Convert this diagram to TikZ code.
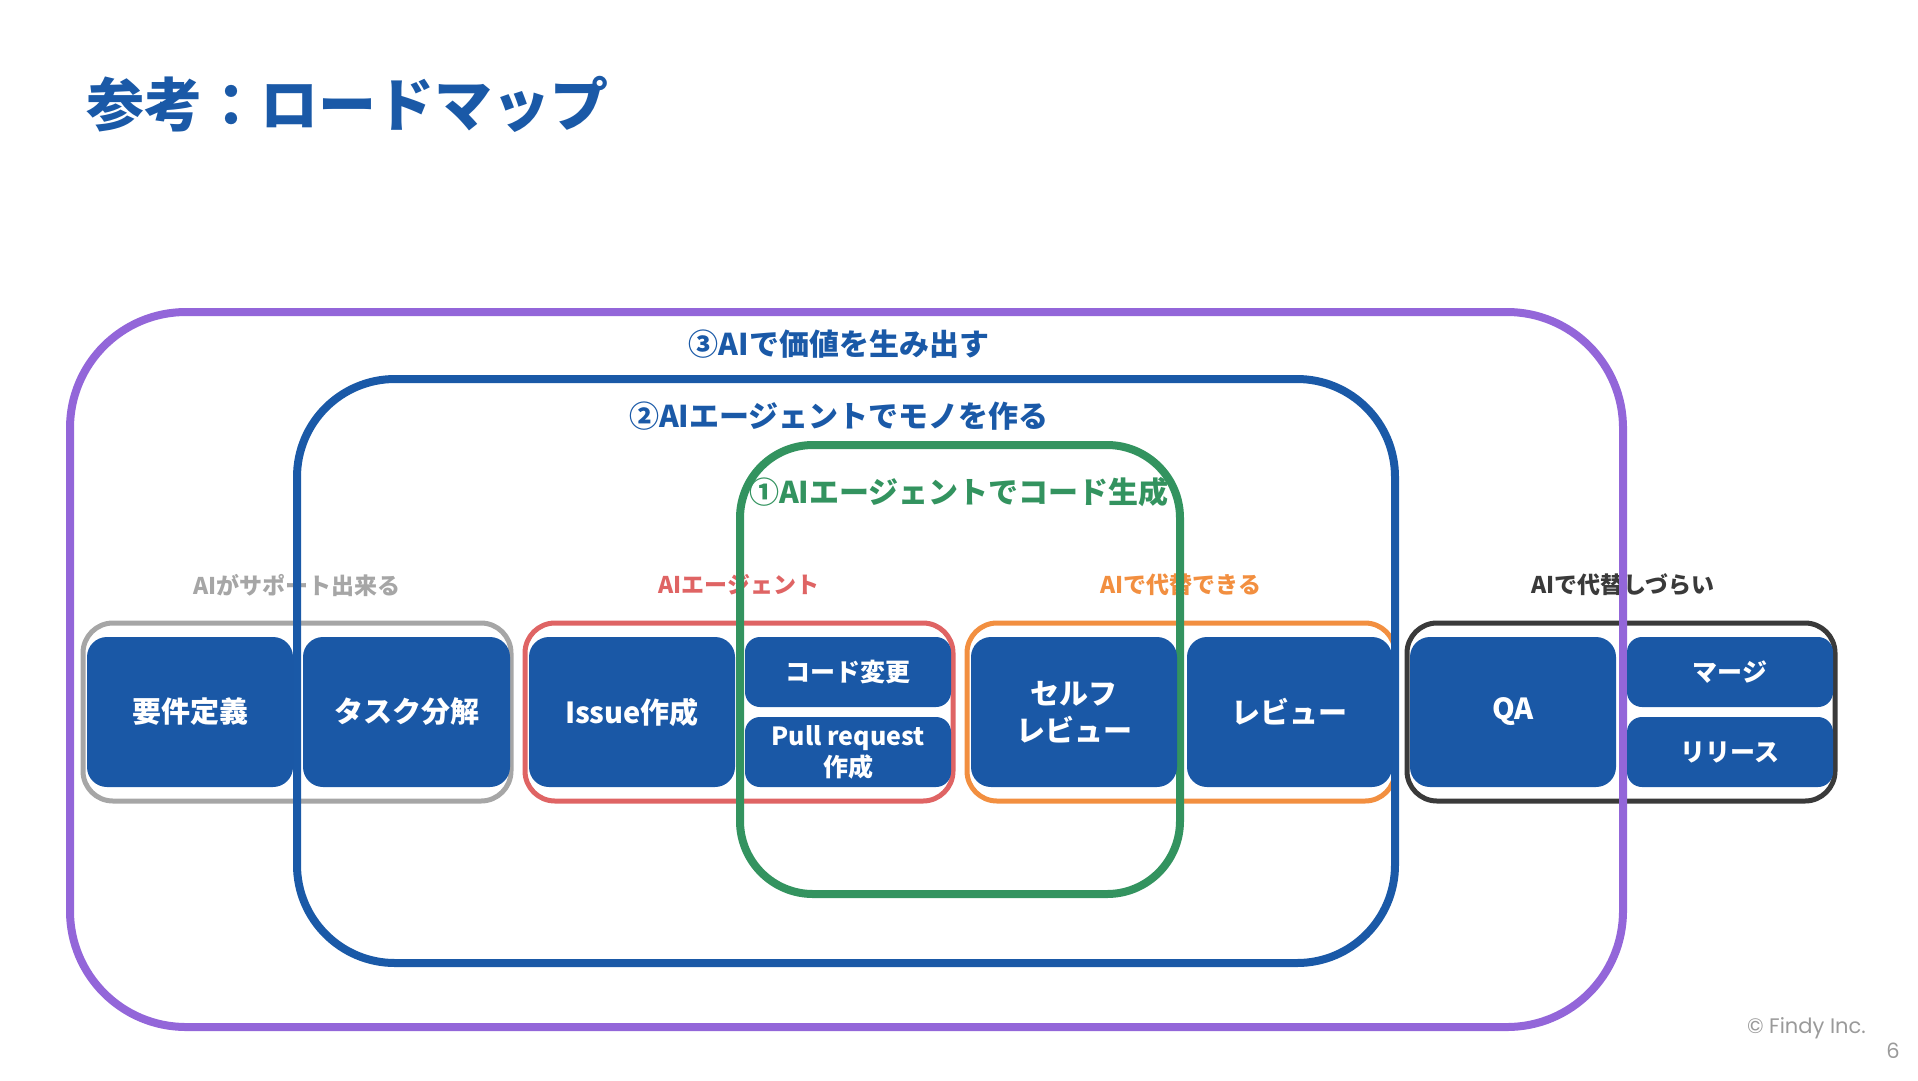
\documentclass[tikz,border=0pt]{standalone}
\usepackage{fontspec}
\setmainfont{Noto Sans CJK JP}
\newfontfamily\footfont{Poppins}
\definecolor{tblue}{HTML}{1A59A7}
\definecolor{boxblue}{HTML}{1A58A6}
\definecolor{tpurple}{HTML}{9366D9}
\definecolor{tgreen}{HTML}{33935F}
\definecolor{tred}{HTML}{DF6464}
\definecolor{torange}{HTML}{F28F40}
\definecolor{tgray}{HTML}{A6A6A6}
\definecolor{tdark}{HTML}{3A3A3A}
\definecolor{tfoot}{HTML}{9A9A9A}
\tikzset{
  bigframe/.style={draw, line width=8pt, rectangle, inner sep=0pt},
  grpframe/.style={draw, line width=5pt, rectangle, rounded corners=30pt, minimum width=428pt, minimum height=178pt, inner sep=0pt},
  bigbox/.style={fill=boxblue, rectangle, rounded corners=20pt, minimum width=206pt, minimum height=150pt, inner sep=0pt, text=white, font=\bfseries\fontsize{29}{37}\selectfont, align=center},
  smallbox/.style={fill=boxblue, rectangle, rounded corners=15pt, minimum width=206pt, minimum height=70pt, inner sep=0pt, text=white, font=\bfseries\fontsize{25}{31}\selectfont, align=center},
  grplabel/.style={font=\bfseries\fontsize{23}{28}\selectfont, inner sep=0pt},
  biglabel/.style={font=\bfseries\fontsize{30}{36}\selectfont, inner sep=0pt},
  foottext/.style={text=tfoot, font=\footfont\fontsize{21}{25}\selectfont, inner sep=0pt},
}
\begin{document}
\begin{tikzpicture}[x=1pt,y=-1pt]
\useasboundingbox (0,0) rectangle (1918,1080);
% title
\node[anchor=west, text=tblue, font=\bfseries\fontsize{58}{69}\selectfont, inner sep=0pt] (title) at (86,104) {参考：ロードマップ};
% group labels
\node[grplabel, text=tgray] (lsup) at (297,585) {AIがサポート出来る};
\node[grplabel, text=tred] (lagent) at (739,585) {AIエージェント};
\node[grplabel, text=torange] (lrep) at (1181,585) {AIで代替できる};
\node[grplabel, text=tdark] (lhard) at (1623,585) {AIで代替しづらい};
% group frames
\node[grpframe, draw=tgray] (gsup) at (297,712) {};
\node[grpframe, draw=tred] (gagent) at (739,712) {};
\node[grpframe, draw=torange] (grep) at (1181,712) {};
\node[grpframe, draw=tdark] (ghard) at (1621,712) {};
% big frames
\node[bigframe, draw=tpurple, rounded corners=116pt, minimum width=1553pt, minimum height=715pt] (fvalue) at (846.5,669.5) {};
\node[bigframe, draw=tblue, rounded corners=98pt, minimum width=1098pt, minimum height=584pt] (fmake) at (846,671) {};
\node[bigframe, draw=tgreen, rounded corners=73pt, minimum width=440pt, minimum height=449pt] (fcode) at (960,669.5) {};
% big frame labels
\node[biglabel, text=tblue] (lvalue) at (839,344) {③AIで価値を生み出す};
\node[biglabel, text=tblue] (lmake) at (839,416) {②AIエージェントでモノを作る};
\node[biglabel, text=tgreen] (lcode) at (959,492) {①AIエージェントでコード生成};
% boxes
\node[bigbox] (req) at (190,712) {要件定義};
\node[bigbox, minimum width=207pt] (task) at (406.5,712) {タスク分解};
\node[bigbox] (issue) at (632,712) {Issue作成};
\node[smallbox, minimum height=70pt] (code) at (848,672) {コード変更};
\node[smallbox, minimum height=70pt] (pr) at (848,752) {Pull request\\作成};
\node[bigbox] (self) at (1074,712) {セルフ\\レビュー};
\node[bigbox, minimum width=205pt] (review) at (1289.5,712) {レビュー};
\node[bigbox] (qa) at (1513,712) {QA};
\node[smallbox] (merge) at (1730,672) {マージ};
\node[smallbox] (release) at (1730,752) {リリース};
% footer
\node[foottext, anchor=east] (copy) at (1866,1028) {© Findy Inc.};
\node[foottext] (page) at (1893,1051) {6};
\end{tikzpicture}
\end{document}
